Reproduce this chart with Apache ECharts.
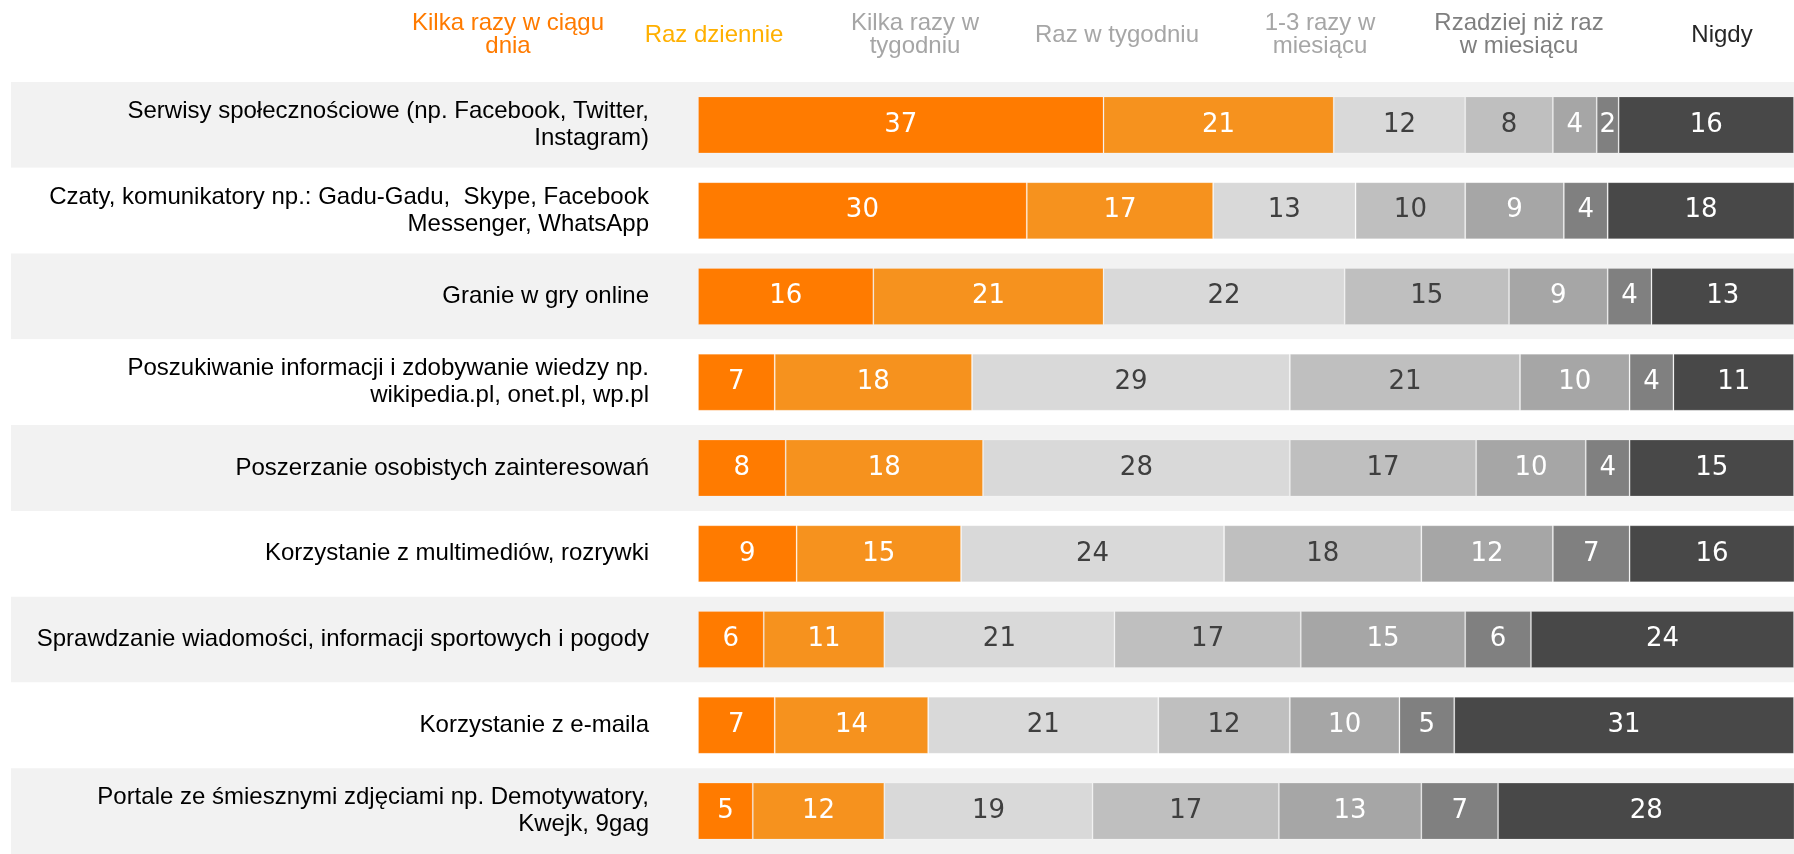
<!DOCTYPE html>
<html>
<head>
<meta charset="utf-8">
<script src="https://cdn.jsdelivr.net/npm/echarts@6/dist/echarts.min.js"></script>
<style>
  html, body { margin: 0; padding: 0; background: #fff; }
  #chart { width: 1794px; height: 854px; }
</style>
</head>
<body>
<div id="chart"></div>
<script>
  // rows, top to bottom
  var categories = [
    'Serwisy społecznościowe (np. Facebook, Twitter,\nInstagram)',
    'Czaty, komunikatory np.: Gadu-Gadu,  Skype, Facebook\nMessenger, WhatsApp',
    'Granie w gry online',
    'Poszukiwanie informacji i zdobywanie wiedzy np.\nwikipedia.pl, onet.pl, wp.pl',
    'Poszerzanie osobistych zainteresowań',
    'Korzystanie z multimediów, rozrywki',
    'Sprawdzanie wiadomości, informacji sportowych i pogody',
    'Korzystanie z e-maila',
    'Portale ze śmiesznymi zdjęciami np. Demotywatory,\nKwejk, 9gag'
  ];

  var seriesNames = [
    'Kilka razy w ciągu\ndnia',
    'Raz dziennie',
    'Kilka razy w\ntygodniu',
    'Raz w tygodniu',
    '1-3 razy w\nmiesiącu',
    'Rzadziej niż raz\nw miesiącu',
    'Nigdy'
  ];

  var kilkaDziennie   = [37, 30, 16, 7, 8, 9, 6, 7, 5];
  var razDziennie     = [21, 17, 21, 18, 18, 15, 11, 14, 12];
  var kilkaTygodniowo = [12, 13, 22, 29, 28, 24, 21, 21, 19];
  var razTygodniowo   = [8, 10, 15, 21, 17, 18, 17, 12, 17];
  var razyMiesiecznie = [4, 9, 9, 10, 10, 12, 15, 10, 13];
  var rzadziej        = [2, 4, 4, 4, 4, 7, 6, 5, 7];
  var nigdy           = [16, 18, 13, 11, 15, 16, 24, 31, 28];

  var values = [kilkaDziennie, razDziennie, kilkaTygodniowo, razTygodniowo, razyMiesiecznie, rzadziej, nigdy];

  var barColors = ['#FF7B00', '#F6921E', '#D9D9D9', '#BFBFBF', '#A6A6A6', '#808080', '#484848'];
  var labelColors = ['#fff', '#fff', '#3F3F3F', '#3F3F3F', '#fff', '#fff', '#fff'];
  var headerColors = ['#FF7B00', '#FFB000', '#A6A6A6', '#A6A6A6', '#A6A6A6', '#7F7F7F', '#262626'];
  var headerX = [508, 714, 915, 1117, 1320, 1519, 1722];

  var myChart = echarts.init(document.getElementById('chart'));

  var series = values.map(function (v, i) {
    return {
      name: seriesNames[i],
      type: 'bar',
      stack: 'total',
      xAxisIndex: 0,
      yAxisIndex: 0,
      barWidth: 57,
      itemStyle: {
        color: barColors[i],
        borderColor: 'rgba(255,255,255,0.2)',
        borderWidth: 1
      },
      label: {
        show: true,
        position: 'inside',
        color: labelColors[i],
        fontFamily: 'DejaVu Sans',
        fontSize: 26,
        padding: [6, 0, 0, 0]
      },
      emphasis: { disabled: true },
      data: v
    };
  });

  myChart.setOption({
    animation: false,
    backgroundColor: '#fff',
    grid: [
      { left: 698, right: 0, top: 82, height: 778.5, containLabel: false },
      { left: 11, right: 0, top: 82, height: 778.5, containLabel: false }
    ],
    xAxis: [
      { type: 'value', gridIndex: 0, min: 0, max: 100, show: false },
      { type: 'value', gridIndex: 1, min: 0, max: 100, show: false }
    ],
    yAxis: [
      {
        type: 'category',
        gridIndex: 0,
        inverse: true,
        data: categories,
        axisLine: { show: false },
        axisTick: { show: false },
        splitLine: { show: false },
        axisLabel: {
          interval: 0,
          margin: 49,
          color: '#000',
          fontFamily: 'Liberation Sans',
          fontSize: 24,
          lineHeight: 27,
          align: 'right',
          padding: [8, 0, 0, 0]
        }
      },
      {
        // alternating row bands behind everything
        type: 'category',
        gridIndex: 1,
        inverse: true,
        data: categories,
        axisLine: { show: false },
        axisTick: { show: false, interval: 0 },
        axisLabel: { show: false, interval: 0 },
        splitLine: { show: false },
        splitArea: {
          show: true,
          interval: 0,
          areaStyle: { color: ['#F2F2F2', '#FFFFFF'] }
        }
      }
    ],
    graphic: seriesNames.map(function (name, i) {
      return {
        type: 'text',
        x: headerX[i],
        y: 35,
        style: {
          text: name,
          fill: headerColors[i],
          font: '24px "Liberation Sans"',
          textAlign: 'center',
          textVerticalAlign: 'middle',
          lineHeight: 23
        }
      };
    }),
    series: series
  });

  window.onresize = function () {
    myChart.resize();
  };
</script>
</body>
</html>
